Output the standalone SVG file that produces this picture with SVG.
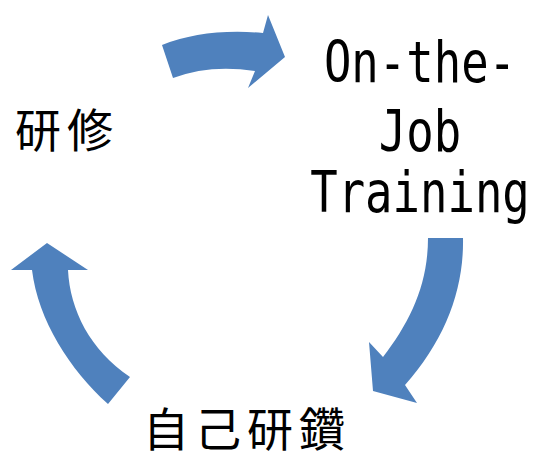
<svg xmlns="http://www.w3.org/2000/svg" width="533" height="459" viewBox="0 0 533 459">
<style>
.arrow{fill:#4F81BD;stroke:none}
.lat{font-family:"DejaVu Sans Mono","Liberation Mono",monospace;font-size:45.6px;fill:#000;text-anchor:middle}
.cjk{font-family:"Noto Sans CJK JP","Noto Sans CJK SC",sans-serif;font-size:46px;fill:#000}
</style>
<rect width="533" height="459" fill="#fff"/>
<g id="connectors">
<path id="arrow-top" class="arrow" d="M173,78 L162,45 Q205,28 263,33 L268,15 L285,57 L248,88 L255,71 Q210,64 173,78 Z"/>
<path id="arrow-right" class="arrow" d="M428,238 L463,238 C464,290 445,340 405,385 L417,403 L373,391 L369,342 L383,357 C410,322 428,285 428,238 Z"/>
<path id="arrow-left" class="arrow" d="M47,243 L88,270 L68,270 C70,310 90,350 130,377 L108,404 C70,370 38,320 32,270 L11,270 Z"/>
</g>
<g id="node-ojt">
<text class="lat" transform="translate(420,82) scale(1,1.26)">On-the-</text>
<text class="lat" transform="translate(420,151) scale(1,1.26)">Job</text>
<text class="lat" transform="translate(420,212) scale(1,1.26)">Training</text>
</g>
<g id="node-kenshu">
<text class="cjk" x="15 67" y="147">研修</text>
</g>
<g id="node-jikokensan">
<text class="cjk" x="143 195 247 299" y="445.5">自己研鑽</text>
</g>
</svg>
